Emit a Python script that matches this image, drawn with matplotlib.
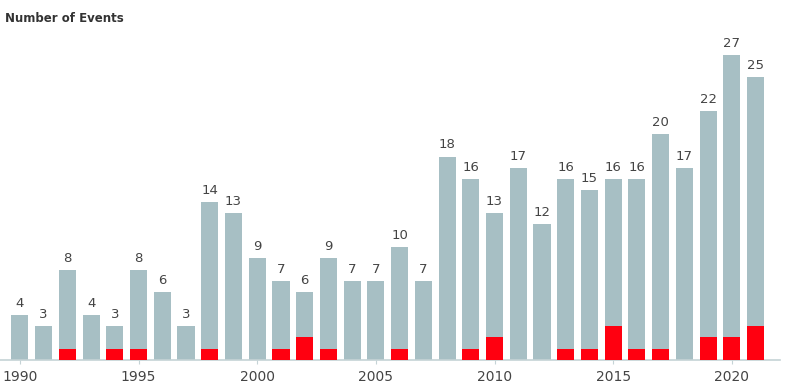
import matplotlib.pyplot as plt
import numpy as np

years = np.arange(1990, 2022)
total = [4, 3, 8, 4, 3, 8, 6, 3, 14, 13, 9, 7, 6, 9, 7, 7,
         10, 7, 18, 16, 13, 17, 12, 16, 15, 16, 16, 20, 17, 22, 27, 25]
red = [0, 0, 1, 0, 1, 1, 0, 0, 1, 0, 0, 1, 2, 1, 0, 0,
       1, 0, 0, 1, 2, 0, 0, 1, 1, 3, 1, 1, 0, 2, 2, 3]
tick_years = [1990, 1995, 2000, 2005, 2010, 2015, 2020]

fig = plt.figure(figsize=(7.87, 3.91), dpi=100)
ax = fig.add_axes([0.0, 31 / 391, 780 / 787, 330 / 391])

ax.bar(years, total, width=0.72, color='#a7bfc4', zorder=2)
ax.bar(years, red, width=0.72, color='#ff0010', zorder=3)

for x, v in zip(years, total):
    ax.text(x, v + 0.45, str(v), ha='center', va='bottom', fontsize=9.5, color='#444444')

ax.set_xlim(1989.16, 2022.03)
ax.set_ylim(0, 29.2)
ax.set_xticks(tick_years)
ax.set_xticklabels([str(y) for y in tick_years], fontsize=10, color='#444444')
ax.tick_params(axis='x', length=3, color='#c5d3d6', pad=4)
ax.set_yticks([])
for s in ['top', 'right', 'left']:
    ax.spines[s].set_visible(False)
ax.spines['bottom'].set_color('#c5d3d6')
ax.spines['bottom'].set_linewidth(1.2)

fig.text(0.006, 0.97, 'Number of Events', ha='left', va='top', fontsize=8.5,
         fontweight='bold', color='#333333')

fig.savefig('out.png', dpi=100)
